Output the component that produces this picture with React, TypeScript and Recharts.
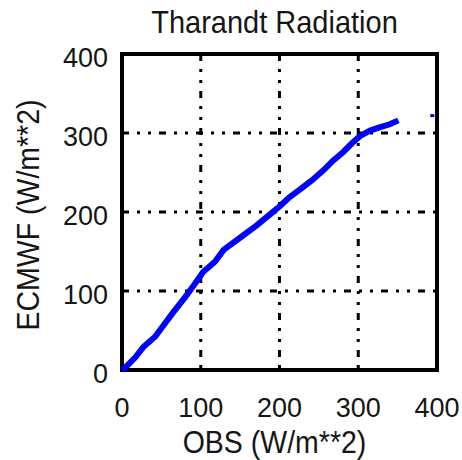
import {
    ComposedChart,
    Line,
    Scatter,
    XAxis,
    YAxis,
    CartesianGrid,
    ReferenceArea,
} from "recharts";

// OBS vs ECMWF radiation
const obsValues = [0, 4, 17, 27, 42, 53, 65, 80, 91, 103, 118, 129, 152, 171, 188, 201, 213, 224, 241, 256, 268, 281, 292, 302, 315, 327, 340, 351];
const ecmwfValues = [0, 3, 16, 29, 42, 57, 73, 92, 107, 124, 137, 152, 169, 183, 197, 208, 219, 227, 240, 253, 265, 276, 287, 296, 303, 307, 311, 316];
const outlierObs = [394];
const outlierEcmwf = [322];
const axisTicks = [0, 100, 200, 300, 400];

const curve = obsValues.map((o, i) => ({obs: o, ecmwf: ecmwfValues[i]}));
const outlier = outlierObs.map((o, i) => ({obs: o, ecmwf: outlierEcmwf[i]}));

const FONT = "'Liberation Sans', Arial, sans-serif";
const TEXT = "#151515";

function XTick({x, y, payload}: any) {
    return (
        <g transform={`translate(${x},${y + 47}) scale(1,1.05)`}>
            <text x={0} y={0} textAnchor="middle" fontFamily={FONT} fontSize={27} fill={TEXT}>
                {payload.value}
            </text>
        </g>
    );
}

function YTick({x, y, payload}: any) {
    return (
        <g transform={`translate(${x - 14},${y + 13}) scale(1,1.05)`}>
            <text x={0} y={0} textAnchor="end" fontFamily={FONT} fontSize={27} fill={TEXT}>
                {payload.value}
            </text>
        </g>
    );
}

function Square(props: any) {
    const {cx, cy} = props;
    return <rect x={cx - 2} y={cy - 1.5} width={4} height={3} fill="#0000ff"/>;
}

// plot frame drawn from the area's own scaled box
function Frame(props: any) {
    const {x, y, width, height} = props;
    return <rect x={x} y={y} width={width} height={height} fill="none" stroke="#000" strokeWidth={4}/>;
}

export default function App() {
    return (
        <div style={{position: "absolute", left: 0, top: 0, width: 462, height: 460}}>
            <ComposedChart
                width={462}
                height={460}
                margin={{top: 54, right: 25, left: 0, bottom: 0}}
            >
                <CartesianGrid
                    stroke="#000"
                    strokeWidth={3}
                    strokeDasharray="7 8 3 8 3 8"
                />
                <XAxis
                    type="number"
                    dataKey="obs"
                    domain={[0, 400]}
                    ticks={axisTicks}
                    height={90}
                    axisLine={false}
                    tickLine={false}
                    tickSize={0}
                    tickMargin={0}
                    tick={<XTick/>}
                    label={{
                        content: () => (
                            <g transform="translate(274.5,453) scale(1,1.12)">
                                <text x={0} y={0} textAnchor="middle" fontFamily={FONT} fontSize={28.5} fill={TEXT}>
                                    OBS (W/m**2)
                                </text>
                            </g>
                        ),
                    }}
                />
                <YAxis
                    type="number"
                    domain={[0, 400]}
                    ticks={axisTicks}
                    width={122}
                    axisLine={false}
                    tickLine={false}
                    tickSize={0}
                    tickMargin={0}
                    tick={<YTick/>}
                    label={{
                        content: () => (
                            <g transform="translate(39,215) rotate(-90) scale(1,1.12)">
                                <text x={0} y={0} textAnchor="middle" fontFamily={FONT} fontSize={28.5} fill={TEXT}>
                                    ECMWF (W/m**2)
                                </text>
                            </g>
                        ),
                    }}
                />
                <ReferenceArea
                    x1={0}
                    x2={400}
                    y1={0}
                    y2={400}
                    ifOverflow="visible"
                    shape={<Frame/>}
                />
                <Line
                    data={curve}
                    dataKey="ecmwf"
                    type="linear"
                    stroke="#0000ff"
                    strokeWidth={6}
                    dot={false}
                    activeDot={false}
                    isAnimationActive={false}
                />
                <Scatter
                    data={outlier}
                    dataKey="ecmwf"
                    shape={<Square/>}
                    isAnimationActive={false}
                />
            </ComposedChart>
            <svg width={462} height={50} style={{position: "absolute", left: 0, top: 0}}>
                <g transform="translate(274.5,33) scale(1,1.1)">
                    <text x={0} y={0} textAnchor="middle" fontFamily={FONT} fontSize={29} fill={TEXT}>
                        Tharandt Radiation
                    </text>
                </g>
            </svg>
        </div>
    );
}
